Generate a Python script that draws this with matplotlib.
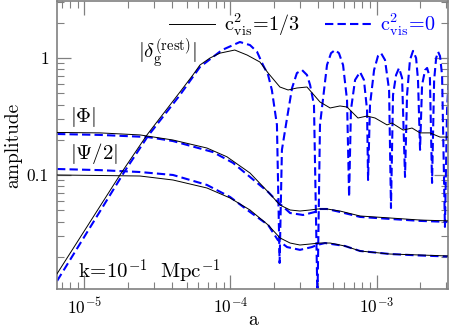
import matplotlib
matplotlib.use('Agg')
import matplotlib.pyplot as plt
from matplotlib.ticker import FixedLocator, NullFormatter, LogLocator

plt.rcParams['font.family'] = 'serif'
plt.rcParams['font.serif'] = ['cmr10', 'DejaVu Serif']
plt.rcParams['mathtext.fontset'] = 'cm'
plt.rcParams['axes.formatter.use_mathtext'] = True

# |delta_g^(rest)|, c_vis^2 = 1/3
a_delta_visc = [6.49e-6, 1.75e-5, 2.68e-5, 4.51e-5, 5.53e-5, 6.18e-5, 7.24e-5, 8.47e-5,
                1.07e-4, 1.30e-4, 1.59e-4, 1.81e-4, 2.18e-4, 2.48e-4, 2.85e-4, 3.34e-4,
                4.10e-4, 4.81e-4, 5.62e-4, 6.28e-4, 7.46e-4, 8.61e-4, 9.77e-4, 1.180e-3,
                1.276e-3, 1.521e-3, 1.750e-3, 1.986e-3, 2.32e-3, 2.72e-3, 3.10e-3]
amp_delta_visc = [0.0143, 0.100, 0.220, 0.512, 0.716, 0.871, 1.00, 1.10,
                  1.17, 1.06, 0.924, 0.744, 0.565, 0.533, 0.554, 0.565,
                  0.421, 0.374, 0.389, 0.381, 0.307, 0.319, 0.307, 0.268,
                  0.278, 0.242, 0.252, 0.229, 0.229, 0.211, 0.211]

# |delta_g^(rest)|, c_vis^2 = 0
a_delta_perf = [6.49e-6, 1.89e-5, 2.72e-5, 4.51e-5, 6.18e-5, 8.75e-5, 1.16e-4, 1.36e-4,
                1.52e-4, 1.67e-4, 1.81e-4, 1.92e-4, 2.08e-4, 2.17e-4, 2.25e-4, 2.44e-4,
                2.64e-4, 2.85e-4, 3.09e-4, 3.34e-4, 3.51e-4, 3.73e-4, 3.94e-4, 4.10e-4,
                4.58e-4, 4.88e-4, 5.20e-4, 5.53e-4, 5.90e-4, 6.28e-4, 6.49e-4, 6.68e-4,
                7.13e-4, 7.71e-4, 8.20e-4, 8.61e-4, 8.75e-4, 9.02e-4, 9.62e-4, 1.023e-3,
                1.074e-3, 1.143e-3, 1.219e-3, 1.256e-3, 1.297e-3, 1.361e-3, 1.426e-3, 1.496e-3,
                1.567e-3, 1.618e-3, 1.694e-3, 1.778e-3, 1.866e-3, 1.923e-3, 1.986e-3, 2.05e-3,
                2.15e-3, 2.22e-3, 2.32e-3, 2.40e-3, 2.48e-3, 2.56e-3, 2.64e-3, 2.72e-3,
                2.81e-3, 2.94e-3, 3.04e-3, 3.10e-3]
amp_delta_perf = [0.0124, 0.108, 0.215, 0.483, 0.838, 1.17, 1.37, 1.29,
                  1.13, 0.871, 0.716, 0.533, 0.268, 0.0177, 0.164, 0.307,
                  0.554, 0.744, 0.789, 0.716, 0.587, 0.396, 0.0086, 0.268,
                  0.871, 1.10, 1.17, 1.10, 0.871, 0.438, 0.0649, 0.360,
                  0.649, 0.759, 0.649, 0.360, 0.0906, 0.396, 0.789, 1.04,
                  1.10, 0.962, 0.533, 0.0522, 0.483, 0.716, 0.822, 0.675,
                  0.0962, 0.483, 0.962, 1.15, 1.00, 0.649, 0.164, 0.587,
                  0.789, 0.822, 0.675, 0.0855, 0.649, 1.00, 1.13, 1.04,
                  0.716, 0.0360, 0.360, 0.587]

# |Phi|
a_phi_visc = [6.49e-6, 1.28e-5, 2.40e-5, 4.04e-5, 6.90e-5, 9.46e-5, 1.36e-4, 1.81e-4,
              2.18e-4, 2.56e-4, 2.99e-4, 3.51e-4, 3.97e-4, 4.58e-4, 5.62e-4, 7.71e-4,
              1.237e-3, 1.986e-3, 3.09e-3]
amp_phi_visc = [0.231, 0.229, 0.220, 0.199, 0.170, 0.143, 0.104, 0.0716,
                0.0554, 0.0502, 0.0492, 0.0502, 0.0512, 0.0512, 0.0492, 0.0446,
                0.0429, 0.0412, 0.0405]
a_phi_perf = [6.49e-6, 1.28e-5, 2.72e-5, 4.04e-5, 7.59e-5, 1.04e-4, 1.81e-4, 2.11e-4,
              2.56e-4, 3.14e-4, 3.79e-4, 4.10e-4, 4.58e-4, 5.62e-4, 7.71e-4, 1.237e-3,
              1.986e-3, 3.09e-3]
amp_phi_perf = [0.224, 0.220, 0.211, 0.195, 0.157, 0.127, 0.0716, 0.0588,
                0.0473, 0.0455, 0.0483, 0.0512, 0.0512, 0.0483, 0.0438, 0.0421,
                0.0405, 0.0397]

# |Psi/2|
a_psi_visc = [6.49e-6, 1.28e-5, 2.40e-5, 4.04e-5, 6.90e-5, 9.93e-5, 1.36e-4, 1.81e-4,
              2.18e-4, 2.56e-4, 2.99e-4, 3.51e-4, 4.10e-4, 4.81e-4, 6.08e-4, 7.71e-4,
              1.237e-3, 1.986e-3, 3.09e-3]
amp_psi_visc = [0.100, 0.0990, 0.0980, 0.0906, 0.0774, 0.0636, 0.0502, 0.0374,
                0.0290, 0.0262, 0.0252, 0.0257, 0.0262, 0.0262, 0.0247, 0.0224,
                0.0211, 0.0207, 0.0203]
a_psi_perf = [6.49e-6, 1.28e-5, 2.40e-5, 4.04e-5, 6.90e-5, 9.93e-5, 1.36e-4, 1.81e-4,
              2.11e-4, 2.44e-4, 2.99e-4, 3.61e-4, 3.91e-4, 4.44e-4, 6.08e-4, 7.71e-4,
              1.237e-3, 1.986e-3, 3.09e-3]
amp_psi_perf = [0.1125, 0.110, 0.106, 0.100, 0.0822, 0.0649, 0.0483, 0.0374,
                0.0278, 0.0242, 0.0229, 0.0242, 0.0252, 0.0262, 0.0247, 0.0224,
                0.0211, 0.0205, 0.0201]

gray = '#808080'
blue = '#0000ff'

fig = plt.figure(figsize=(4.5, 3.28), dpi=100)
ax = fig.add_axes([0.1267, 0.1189, 0.8695, 0.878])

dash_kw = dict(color=blue, lw=1.5, dashes=(4, 2), zorder=2)
line_kw = dict(color='black', lw=0.7, zorder=3)

ax.plot(a_delta_visc, amp_delta_visc, label=r'$\mathrm{c}^2_{\mathrm{vis}}\!=\!1/3$', **line_kw)
ax.plot(a_delta_perf, amp_delta_perf, label=r'$\mathrm{c}^2_{\mathrm{vis}}\!=\!0$', **dash_kw)
ax.plot(a_phi_visc, amp_phi_visc, **line_kw)
ax.plot(a_phi_perf, amp_phi_perf, **dash_kw)
ax.plot(a_psi_visc, amp_psi_visc, **line_kw)
ax.plot(a_psi_perf, amp_psi_perf, **dash_kw)

ax.set_xscale('log')
ax.set_yscale('log')
ax.set_xlim(6.49e-6, 3.10e-3)
ax.set_ylim(0.0106, 3.07)

ax.yaxis.set_major_locator(FixedLocator([0.1, 1]))
ax.set_yticklabels(['0.1', '1'])
ax.yaxis.set_minor_locator(LogLocator(base=10, subs=range(2, 10)))
ax.yaxis.set_minor_formatter(NullFormatter())
ax.xaxis.set_minor_formatter(NullFormatter())

ax.tick_params(which='both', direction='in', top=True, right=True, color=gray, labelsize=12.5)
ax.tick_params(which='major', length=10, width=0.9, pad=6)
ax.tick_params(axis='x', which='major', pad=5)
ax.tick_params(which='minor', length=5, width=0.8)
for s in ax.spines.values():
    s.set_color(gray)
    s.set_linewidth(1.2)

ax.set_xlabel('a', fontsize=14, labelpad=-4)
ax.set_ylabel('amplitude', fontsize=14, labelpad=3)

ax.text(0.207, 0.819, r'$|\delta_{\mathrm{g}}^{(\mathrm{rest})}|$', transform=ax.transAxes,
        fontsize=15, va='center', ha='left')
ax.text(0.033, 0.597, r'$|\Phi|$', transform=ax.transAxes, fontsize=15, va='center', ha='left')
ax.text(0.033, 0.472, r'$|\Psi/2|$', transform=ax.transAxes, fontsize=15, va='center', ha='left')
ax.text(0.054, 0.059, r'$\mathrm{k}\!=\!10^{-1}\ \ \mathrm{Mpc}^{-1}$', transform=ax.transAxes,
        fontsize=15, va='center', ha='left')

ax.legend(loc='upper right', bbox_to_anchor=(0.995, 1.0), ncol=2, frameon=False,
          fontsize=14.5, handlelength=2.3, handletextpad=0.45, columnspacing=1.2,
          borderaxespad=0.1, labelcolor='linecolor')

fig.savefig('out.png', dpi=100)
